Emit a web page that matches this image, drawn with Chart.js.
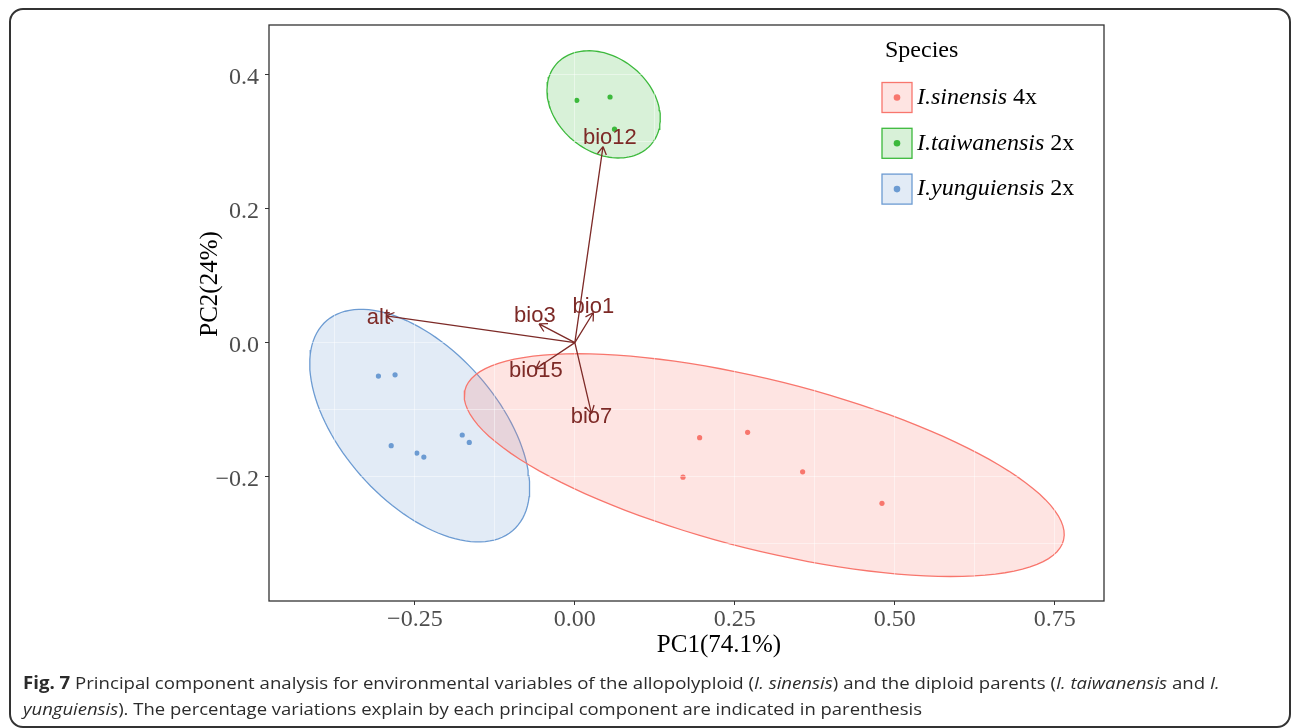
<!DOCTYPE html>
<html>
<head>
<meta charset="utf-8">
<script src="https://cdn.jsdelivr.net/npm/chart.js@4.4.1/dist/chart.umd.min.js"></script>
<style>
  html, body { margin: 0; padding: 0; background: #fff; }
  #wrap { position: relative; width: 1292px; height: 728px; overflow: hidden; }
  #frame { position: absolute; left: 9px; top: 8px; width: 1282px; height: 720px;
           border: 2px solid #333; border-radius: 14px; box-sizing: border-box; }
  #pca { position: absolute; left: 0; top: 0; }
  .cap { position: absolute; left: 23px; font-family: "Open Sans", sans-serif; font-size: 17px;
         color: #2b2b2b; white-space: nowrap; transform-origin: left center; line-height: 20px; }
  .cap b { font-weight: 700; }
</style>
</head>
<body>
<div id="wrap">
  <div id="frame"></div>
  <canvas id="pca" width="1292" height="728"></canvas>
  <div class="cap" id="cap1" style="top:673px"><b>Fig. 7</b> Principal component analysis for environmental variables of the allopolyploid (<i>I. sinensis</i>) and the diploid parents (<i>I. taiwanensis</i> and <i>I.</i></div>
  <div class="cap" id="cap2" style="top:699px"><i>yunguiensis</i>). The percentage variations explain by each principal component are indicated in parenthesis</div>
</div>
<script>
// axis ticks
const xTicks = [-0.25, 0, 0.25, 0.5, 0.75];
const yTicks = [-0.2, 0, 0.2, 0.4];

// individuals (PC1, PC2)
const sinensisPC1 = [0.169, 0.195, 0.270, 0.356, 0.480];
const sinensisPC2 = [-0.201, -0.142, -0.134, -0.193, -0.240];
const taiwanensisPC1 = [0.003, 0.055, 0.062];
const taiwanensisPC2 = [0.362, 0.367, 0.319];
const yunguiensisPC1 = [-0.307, -0.281, -0.287, -0.247, -0.236, -0.176, -0.165];
const yunguiensisPC2 = [-0.050, -0.048, -0.154, -0.165, -0.171, -0.138, -0.149];

// concentration ellipses: centre, semi axes, angle (deg)
const ellipseCX = [0.296, 0.045, -0.2425];
const ellipseCY = [-0.183, 0.356, -0.124];
const ellipseA = [0.481, 0.0956, 0.214];
const ellipseB = [0.127, 0.0716, 0.118];
const ellipseAngle = [-13.4, -34.6, -45.6];

// variable loadings (arrows)
const varNames = ['alt', 'bio3', 'bio1', 'bio12', 'bio15', 'bio7'];
const varPC1 = [-0.295, -0.056, 0.029, 0.044, -0.061, 0.026];
const varPC2 = [0.040, 0.028, 0.045, 0.293, -0.039, -0.106];
const labelPC1 = [-0.307, -0.0625, 0.029, 0.0547, -0.061, 0.026];
const labelPC2 = [0.0384, 0.0418, 0.0552, 0.308, -0.0403, -0.109];

const species = ['I.sinensis', 'I.taiwanensis', 'I.yunguiensis'];
const ploidy = ['4x', '2x', '2x'];
const colors = ['#F8766D', '#3CB93C', '#6C9BD2'];
const fills = ['rgba(248,118,109,0.2)', 'rgba(60,185,60,0.2)', 'rgba(108,155,210,0.2)'];

function toPoints(xs, ys) {
  return xs.map((x, i) => ({ x: x, y: ys[i] }));
}

function ellipsePath(i) {
  const pts = [];
  const th = ellipseAngle[i] * Math.PI / 180;
  for (let k = 0; k <= 120; k++) {
    const t = k / 120 * 2 * Math.PI;
    const u = ellipseA[i] * Math.cos(t), v = ellipseB[i] * Math.sin(t);
    pts.push({ x: ellipseCX[i] + u * Math.cos(th) - v * Math.sin(th),
               y: ellipseCY[i] + u * Math.sin(th) + v * Math.cos(th) });
  }
  return pts;
}

const pcs = [[sinensisPC1, sinensisPC2], [taiwanensisPC1, taiwanensisPC2], [yunguiensisPC1, yunguiensisPC2]];

const datasets = [];
species.forEach((s, i) => {
  datasets.push({
    label: s + ' ellipse', data: ellipsePath(i), showLine: true, fill: 'shape',
    borderColor: colors[i], backgroundColor: fills[i], borderWidth: 1.3,
    pointRadius: 0, tension: 0, order: 2
  });
});
species.forEach((s, i) => {
  datasets.push({
    label: s, data: toPoints(pcs[i][0], pcs[i][1]), pointRadius: 2.6,
    pointBackgroundColor: colors[i], pointBorderWidth: 0, order: 1
  });
});

function fmtX(v) {
  const s = Math.abs(v).toFixed(2);
  return v < 0 ? '\u2212' + s : s;
}
function fmtY(v) {
  const s = Math.abs(v).toFixed(1);
  return v < -1e-9 ? '\u2212' + s : s;
}
function withMinor(major) {
  const step = major[1] - major[0];
  const out = [];
  major.forEach(v => { out.push(v - step / 2); out.push(v); });
  out.push(major[major.length - 1] + step / 2);
  return out;
}
function isMajor(list, v) {
  return list.some(m => Math.abs(m - v) < 1e-6);
}

const biplot = {
  id: 'biplot',
  afterDraw(chart) {
    const c = chart.ctx, xs = chart.scales.x, ys = chart.scales.y, a = chart.chartArea;
    c.save();
    // panel frame
    c.strokeStyle = '#333';
    c.lineWidth = 1.3;
    c.strokeRect(a.left, a.top, a.right - a.left, a.bottom - a.top);

    // arrows
    const ox = xs.getPixelForValue(0), oy = ys.getPixelForValue(0);
    c.strokeStyle = '#7D2A27';
    c.lineWidth = 1.3;
    varNames.forEach((n, i) => {
      const tx = xs.getPixelForValue(varPC1[i]), ty = ys.getPixelForValue(varPC2[i]);
      const ang = Math.atan2(ty - oy, tx - ox);
      c.beginPath();
      c.moveTo(ox, oy); c.lineTo(tx, ty);
      [Math.PI / 6, -Math.PI / 6].forEach(d => {
        c.moveTo(tx, ty);
        c.lineTo(tx - 9 * Math.cos(ang + d), ty - 9 * Math.sin(ang + d));
      });
      c.stroke();
    });
    c.fillStyle = '#7D2A27';
    c.font = '22px "Liberation Sans", Arial, sans-serif';
    c.textAlign = 'center';
    c.textBaseline = 'middle';
    varNames.forEach((n, i) => {
      c.fillText(n, xs.getPixelForValue(labelPC1[i]), ys.getPixelForValue(labelPC2[i]) + 1);
    });

    // axis titles
    c.fillStyle = '#000';
    c.font = '25px "Liberation Serif", serif';
    c.textBaseline = 'middle';
    c.fillText('PC1(74.1%)', 719, 645);
    c.save();
    c.translate(210, 284);
    c.rotate(-Math.PI / 2);
    c.fillText('PC2(24%)', 0, 0);
    c.restore();

    // legend
    c.textAlign = 'left';
    c.font = '24px "Liberation Serif", serif';
    c.fillText('Species', 885, 51);
    species.forEach((s, i) => {
      const bx = 882, by = 82.5 + i * 45.8, bs = 30;
      c.fillStyle = '#fff';
      c.fillRect(bx, by, bs, bs);
      c.fillStyle = fills[i];
      c.fillRect(bx, by, bs, bs);
      c.strokeStyle = colors[i];
      c.lineWidth = 1.3;
      c.strokeRect(bx, by, bs, bs);
      c.beginPath();
      c.arc(bx + bs / 2, by + bs / 2, 3.3, 0, 2 * Math.PI);
      c.fillStyle = colors[i];
      c.fill();
      c.fillStyle = '#000';
      c.font = 'italic 24px "Liberation Serif", serif';
      c.fillText(s, 917, by + bs / 2);
      const w = c.measureText(s).width;
      c.font = '24px "Liberation Serif", serif';
      c.fillText(' ' + ploidy[i], 917 + w, by + bs / 2);
    });
    c.restore();
  }
};

new Chart(document.getElementById('pca'), {
  type: 'scatter',
  data: { datasets: datasets },
  options: {
    responsive: false,
    animation: false,
    devicePixelRatio: 1,
    layout: { padding: { left: 0, top: 25, right: 188, bottom: 0 } },
    plugins: { legend: { display: false }, tooltip: { enabled: false } },
    scales: {
      x: {
        type: 'linear', min: -0.478, max: 0.827,
        afterBuildTicks: s => { s.ticks = withMinor(xTicks).map(v => ({ value: v })); },
        afterFit: s => { s.height = 127; },
        border: { display: false },
        grid: {
          z: 1, color: 'rgba(255,255,255,0.45)', lineWidth: 1, tickLength: 4,
          tickColor: ctx => isMajor(xTicks, ctx.tick.value) ? '#333' : 'rgba(0,0,0,0)'
        },
        ticks: {
          autoSkip: false, maxRotation: 0, padding: 0, color: '#4D4D4D',
          font: { family: '"Liberation Serif", serif', size: 24 },
          callback: v => isMajor(xTicks, v) ? fmtX(v) : ''
        }
      },
      y: {
        type: 'linear', min: -0.386, max: 0.4746,
        afterBuildTicks: s => { s.ticks = withMinor(yTicks).map(v => ({ value: v })); },
        afterFit: s => { s.width = 269; },
        border: { display: false },
        grid: {
          z: 1, color: 'rgba(255,255,255,0.45)', lineWidth: 1, tickLength: 4,
          tickColor: ctx => isMajor(yTicks, ctx.tick.value) ? '#333' : 'rgba(0,0,0,0)'
        },
        ticks: {
          autoSkip: false, padding: 6, labelOffset: 3, color: '#4D4D4D',
          font: { family: '"Liberation Serif", serif', size: 24 },
          callback: v => isMajor(yTicks, v) ? fmtY(v) : ''
        }
      }
    }
  },
  plugins: [biplot]
});

// squeeze caption lines to the reference widths
[['cap1', 1197], ['cap2', 899]].forEach(([id, w]) => {
  const el = document.getElementById(id);
  el.style.transform = 'scaleX(' + (w / el.offsetWidth) + ')';
});
</script>
</body>
</html>
